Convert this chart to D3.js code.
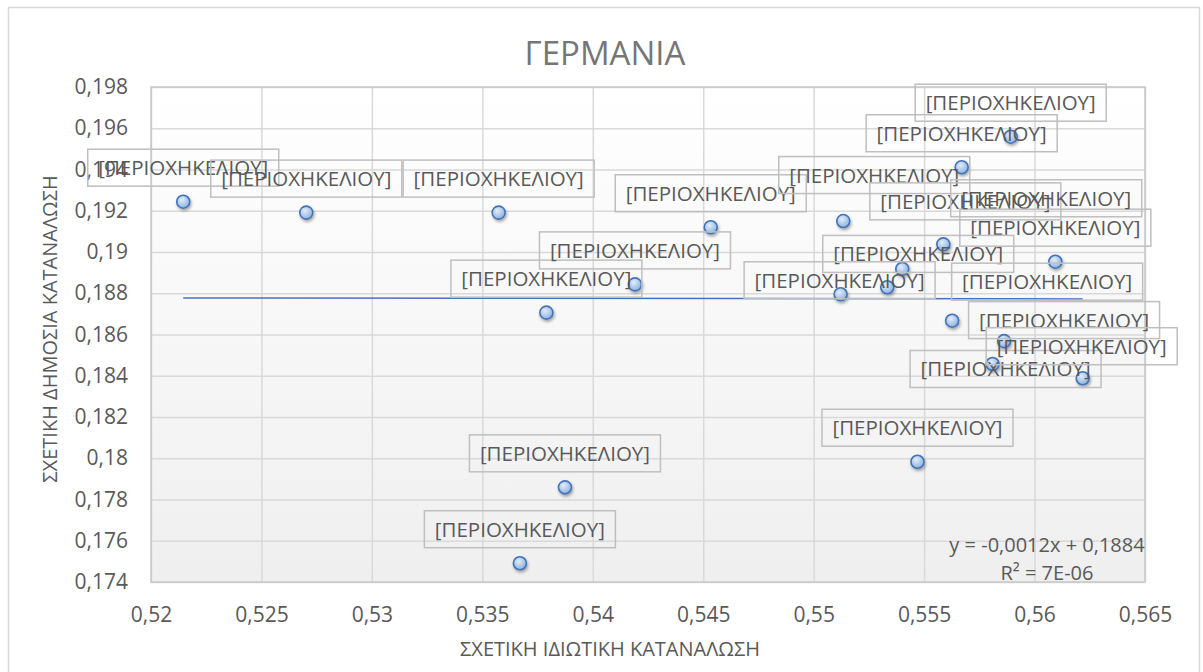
<!DOCTYPE html>
<html>
<head>
<meta charset="utf-8">
<script src="https://cdn.jsdelivr.net/npm/d3@7"></script>
<style>
  body { margin: 0; background: #fff; }
  svg { display: block; font-family: "Open Sans", "Noto Sans", sans-serif; }
</style>
</head>
<body>
<div id="chart"></div>
<script>
// relative private consumption (x) and relative public consumption (y) per region
const privateShare = [0.52146, 0.52703, 0.53574, 0.53790, 0.54191, 0.53874, 0.53670, 0.54534,
    0.55892, 0.55670, 0.55134, 0.55587, 0.56094, 0.55401, 0.55333, 0.55122,
    0.55627, 0.55862, 0.55810, 0.56218, 0.55470]
const publicShare = [0.19244, 0.19191, 0.19191, 0.18706, 0.18843, 0.17859, 0.17491, 0.19120,
    0.19559, 0.19411, 0.19150, 0.19037, 0.18953, 0.18918, 0.18829, 0.18795,
    0.18667, 0.18568, 0.18457, 0.18388, 0.17983]
const pointLabels = privateShare.map(() => '[ΠΕΡΙΟΧΗΚΕΛΙΟΥ]')

const xTickValues = [0.52, 0.525, 0.53, 0.535, 0.54, 0.545, 0.55, 0.555, 0.56, 0.565]
const yTickValues = [0.174, 0.176, 0.178, 0.18, 0.182, 0.184, 0.186, 0.188, 0.19, 0.192, 0.194, 0.196, 0.198]

// linear trendline as printed on the chart
const trendSlope = -0.0012
const trendIntercept = 0.1884
const trendText = ['y = -0,0012x + 0,1884', 'R² = 7E-06']

const chartTitle = 'ΓΕΡΜΑΝΙΑ'
const xTitle = 'ΣΧΕΤΙΚΗ ΙΔΙΩΤΙΚΗ ΚΑΤΑΝΑΛΩΣΗ'
const yTitle = 'ΣΧΕΤΙΚΗ ΔΗΜΟΣΙΑ ΚΑΤΑΝΑΛΩΣΗ'

// hand-dragged data labels (pixel shift from the default "above" spot)
const labelNudge = [[0, 0], [0, 0], [0, 0], [0, 0], [0, 0], [0, 0], [0, 0], [0, 0],
    [0, 0], [0, 0], [31, -12], [22, -9], [0, 0], [16, 19], [159, -55], [-1, 20],
    [95, -5], [60, 13], [13, 39], [-1, 2], [0, 0]]

const width = 1203, height = 672
const margin = ({ top: 87, right: 58, bottom: 90, left: 151 })

const locale = d3.formatLocale({ decimal: ',', thousands: '.', grouping: [3], currency: ['€', ''] })
const fmt = locale.format('.3~f')

const svg = d3.select('#chart')
    .append('svg')
    .attr('width', width)
    .attr('height', height)

const defs = svg.append('defs')
const bg = defs.append('linearGradient').attr('id', 'plotbg')
    .attr('x1', 0).attr('y1', 0).attr('x2', 0).attr('y2', 1)
bg.append('stop').attr('offset', '0%').attr('stop-color', '#ffffff')
bg.append('stop').attr('offset', '100%').attr('stop-color', '#efefef')

const mk = defs.append('radialGradient').attr('id', 'marker')
    .attr('cx', '40%').attr('cy', '35%').attr('r', '65%')
mk.append('stop').attr('offset', '0%').attr('stop-color', '#e3edf9')
mk.append('stop').attr('offset', '100%').attr('stop-color', '#8cb2e2')

const shadow = defs.append('filter').attr('id', 'shadow')
    .attr('x', '-50%').attr('y', '-50%').attr('width', '200%').attr('height', '200%')
shadow.append('feDropShadow').attr('dx', 1).attr('dy', 2)
    .attr('stdDeviation', 1.4).attr('flood-color', '#000').attr('flood-opacity', 0.35)

// chart area border
svg.append('rect')
    .attr('x', 8.5).attr('y', 7.5)
    .attr('width', 1191).attr('height', 700)
    .attr('fill', '#fff')
    .attr('stroke', '#d9d9d9')
    .attr('stroke-width', 1.5)

const x = d3.scaleLinear()
    .domain([xTickValues[0], xTickValues[xTickValues.length - 1]])
    .range([margin.left, width - margin.right])
const y = d3.scaleLinear()
    .domain([yTickValues[0], yTickValues[yTickValues.length - 1]])
    .range([height - margin.bottom, margin.top])

const plotW = x.range()[1] - x.range()[0]
const plotH = y.range()[0] - y.range()[1]

svg.append('rect')
    .attr('x', margin.left).attr('y', margin.top)
    .attr('width', plotW).attr('height', plotH)
    .attr('fill', 'url(#plotbg)')

const xAxis = g => g
    .attr('transform', `translate(0,${y.range()[0]})`)
    .call(d3.axisBottom(x).tickValues(xTickValues).tickFormat(fmt)
        .tickSizeInner(-plotH).tickSizeOuter(0).tickPadding(25))
const yAxis = g => g
    .attr('transform', `translate(${margin.left},0)`)
    .call(d3.axisLeft(y).tickValues(yTickValues).tickFormat(fmt)
        .tickSizeInner(-plotW).tickSizeOuter(0).tickPadding(23))

for (const ax of [xAxis, yAxis]) {
    const g = svg.append('g').call(ax)
    g.select('.domain').remove()
    g.selectAll('line').attr('stroke', '#d9d9d9').attr('stroke-width', 1.5)
    g.selectAll('text')
        .attr('fill', '#595959')
        .style('font-size', '21px')
        .style('font-family', '"Open Sans", sans-serif')
}

// plot border
svg.append('rect')
    .attr('x', margin.left).attr('y', margin.top)
    .attr('width', plotW).attr('height', plotH)
    .attr('fill', 'none')
    .attr('stroke', '#c8c8c8')
    .attr('stroke-width', 1.5)

// trendline
const xr = d3.extent(privateShare)
svg.append('path')
    .datum(xr.map(v => [v, trendSlope * v + trendIntercept]))
    .attr('fill', 'none')
    .attr('stroke', '#4472c4')
    .attr('stroke-width', 1.5)
    .attr('d', d3.line().x(d => x(d[0])).y(d => y(d[1])))

// markers
svg.append('g')
    .selectAll('circle')
    .data(privateShare)
    .join('circle')
    .attr('cx', d => x(d))
    .attr('cy', (d, i) => y(publicShare[i]))
    .attr('r', 6.5)
    .attr('fill', 'url(#marker)')
    .attr('stroke', '#4272b8')
    .attr('stroke-width', 1.6)
    .attr('filter', 'url(#shadow)')

// data labels
const labels = svg.append('g')
    .selectAll('g')
    .data(pointLabels)
    .join('g')
    .attr('transform', (d, i) =>
        `translate(${x(privateShare[i]) + labelNudge[i][0]},${y(publicShare[i]) - 34 + labelNudge[i][1]})`)
labels.append('rect')
    .attr('x', -95.5).attr('y', -18.5)
    .attr('width', 191).attr('height', 37)
    .attr('fill', 'none')
    .attr('stroke', '#bfbfbf')
    .attr('stroke-width', 1.5)
labels.append('text')
    .attr('text-anchor', 'middle')
    .attr('dy', 7.5)
    .attr('fill', '#595959')
    .style('font-size', '20.5px')
    .text(d => d)

// trendline equation
svg.append('g')
    .selectAll('text')
    .data(trendText)
    .join('text')
    .attr('x', 1047)
    .attr('y', (d, i) => 552 + i * 28)
    .attr('text-anchor', 'middle')
    .attr('fill', '#595959')
    .style('font-size', '20px')
    .text(d => d)

// titles
svg.append('text')
    .attr('x', 605).attr('y', 65)
    .attr('text-anchor', 'middle')
    .attr('fill', '#767676')
    .style('font-size', '33px')
    .text(chartTitle)

svg.append('text')
    .attr('x', 610).attr('y', 656)
    .attr('text-anchor', 'middle')
    .attr('fill', '#595959')
    .style('font-size', '20px')
    .text(xTitle)

svg.append('text')
    .attr('transform', 'translate(57,329) rotate(-90)')
    .attr('text-anchor', 'middle')
    .attr('fill', '#595959')
    .style('font-size', '20px')
    .text(yTitle)
</script>
</body>
</html>
